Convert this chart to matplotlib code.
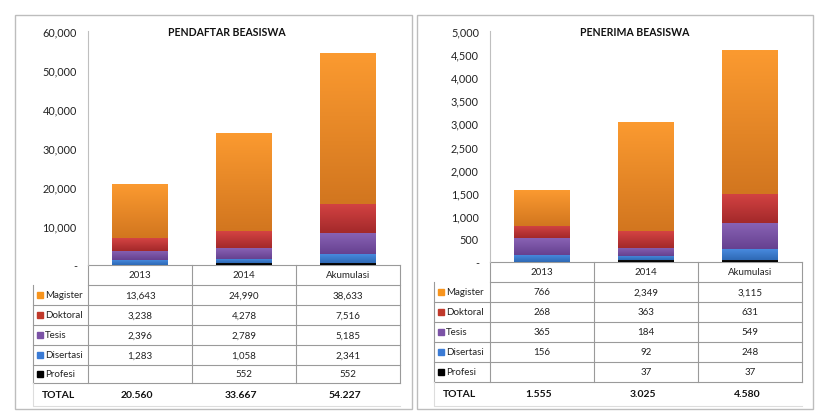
import matplotlib
matplotlib.use("Agg")
import matplotlib.pyplot as plt
import numpy as np
from matplotlib.colors import LinearSegmentedColormap
from matplotlib.patches import Rectangle

plt.rcParams['font.family'] = ['Lato', 'DejaVu Sans']

categories = ["2013", "2014", "Akumulasi"]
series_names = ["Magister", "Doktoral", "Tesis", "Disertasi", "Profesi"]

# PENDAFTAR BEASISWA
pendaftar_magister = [13643, 24990, 38633]
pendaftar_doktoral = [3238, 4278, 7516]
pendaftar_tesis = [2396, 2789, 5185]
pendaftar_disertasi = [1283, 1058, 2341]
pendaftar_profesi = [None, 552, 552]
pendaftar_ticks = [0, 10000, 20000, 30000, 40000, 50000, 60000]

# PENERIMA BEASISWA
penerima_magister = [766, 2349, 3115]
penerima_doktoral = [268, 363, 631]
penerima_tesis = [365, 184, 549]
penerima_disertasi = [156, 92, 248]
penerima_profesi = [None, 37, 37]
penerima_ticks = [0, 500, 1000, 1500, 2000, 2500, 3000, 3500, 4000, 4500, 5000]

W, H = 830, 414
fig = plt.figure(figsize=(W / 100, H / 100), dpi=100)

# gradient (top, bottom) colors per series
grad = {
    "Magister": ("#FB9A30", "#D2761F"),
    "Doktoral": ("#D44343", "#A3292A"),
    "Tesis": ("#8862B4", "#664190"),
    "Disertasi": ("#4A8DE2", "#2E69B5"),
    "Profesi": ("#111111", "#000000"),
}
legend_col = {
    "Magister": "#F7941D",
    "Doktoral": "#C0392B",
    "Tesis": "#7B52A6",
    "Disertasi": "#3A7BD5",
    "Profesi": "#000000",
}

overlay = fig.add_axes([0, 0, 1, 1], zorder=-1)
overlay.set_xlim(0, W)
overlay.set_ylim(H, 0)
overlay.axis('off')


def px_axes(x0, y0, x1, y1):
    return fig.add_axes([x0 / W, 1 - y1 / H, (x1 - x0) / W, (y1 - y0) / H])


def panel(box, ax_box, title, title_x, series, ticks, ymax, table_rows, left_col_x, total_label_x):
    bx0, by0, bx1, by1 = box
    overlay.add_patch(Rectangle((bx0, by0), bx1 - bx0, by1 - by0, fill=False,
                                edgecolor="#BDBDBD", lw=1.0))
    ax0, ay0, ax1, ay1 = ax_box
    ax = px_axes(ax0, ay0, ax1, ay1)
    x = np.arange(len(categories))
    bottoms = np.zeros(len(categories))
    order = ["Profesi", "Disertasi", "Tesis", "Doktoral", "Magister"]
    for name in order:
        vals = np.array([v if v is not None else 0 for v in series[name]], dtype=float)
        bars = ax.bar(x, vals, width=0.53, bottom=bottoms, color="none", edgecolor="none")
        cmap = LinearSegmentedColormap.from_list(name, [grad[name][1], grad[name][0]])
        for r in bars:
            if r.get_height() <= 0:
                continue
            gx, gy, gw, gh = r.get_x(), r.get_y(), r.get_width(), r.get_height()
            g = np.linspace(0, 1, 64).reshape(-1, 1)
            ax.imshow(g, extent=[gx, gx + gw, gy, gy + gh], origin='lower', cmap=cmap,
                      aspect='auto', interpolation='bilinear', zorder=2)
        bottoms += vals
    ax.set_xlim(-0.5, len(categories) - 0.5)
    ax.set_ylim(0, ymax)
    ax.set_yticks(ticks)
    ax.set_yticklabels(["-" if t == 0 else f"{t:,}" for t in ticks], fontsize=7.8, color="#222222")
    ax.tick_params(axis='y', length=0, pad=8)
    ax.set_xticks([])
    for s in ["top", "right", "bottom"]:
        ax.spines[s].set_visible(False)
    ax.spines["left"].set_color("#BFBFBF")
    ax.patch.set_alpha(0)
    fig.text(title_x / W, 1 - 33 / H, title, fontsize=7.6, fontweight='bold',
             ha='center', va='center', color="#111111")

    # table
    col_edges = [ax0 + (ax1 - ax0) * i / 3 for i in range(4)]
    row_edges = table_rows
    gc = "#9A9A9A"
    overlay.plot([col_edges[0], col_edges[-1]], [row_edges[0], row_edges[0]], color=gc, lw=0.8)
    for c in col_edges:
        overlay.plot([c, c], [row_edges[0], row_edges[6]], color=gc, lw=0.8)
    overlay.plot([left_col_x, left_col_x], [row_edges[1], row_edges[6]], color=gc, lw=0.8)
    overlay.plot([col_edges[0], col_edges[-1]], [row_edges[1], row_edges[1]], color=gc, lw=0.8)
    for ry in row_edges[2:7]:
        overlay.plot([left_col_x, col_edges[-1]], [ry, ry], color=gc, lw=0.8)
    overlay.plot([left_col_x, left_col_x, col_edges[-1]], [row_edges[6], row_edges[7], row_edges[7]],
                 color="#DDDDDD", lw=0.8)
    centers = [(col_edges[i] + col_edges[i + 1]) / 2 for i in range(3)]
    hy = (row_edges[0] + row_edges[1]) / 2
    for cx, cat in zip(centers, categories):
        overlay.text(cx, hy, cat, fontsize=7, ha='center', va='center', color="#222222")
    for i, name in enumerate(series_names):
        ry = (row_edges[i + 1] + row_edges[i + 2]) / 2
        overlay.add_patch(Rectangle((left_col_x + 4, ry - 3.2), 6, 6, color=legend_col[name]))
        overlay.text(left_col_x + 12, ry, name, fontsize=7, ha='left', va='center', color="#222222")
        for cx, v in zip(centers, series[name]):
            if v is not None:
                overlay.text(cx, ry, f"{v:,}", fontsize=7, ha='center', va='center', color="#222222")
    ty = (row_edges[6] + row_edges[7]) / 2
    overlay.text(total_label_x, ty, "TOTAL", fontsize=7.5, fontweight='bold', ha='left',
                 va='center', color="#111111")
    totals = [sum(series[n][j] or 0 for n in series_names) for j in range(3)]
    for cx, t in zip(centers, totals):
        overlay.text(cx - 3, ty, f"{t:,}".replace(",", "."), fontsize=7.5, fontweight='bold',
                     ha='center', va='center', color="#111111")


series_left = {
    "Magister": pendaftar_magister, "Doktoral": pendaftar_doktoral, "Tesis": pendaftar_tesis,
    "Disertasi": pendaftar_disertasi, "Profesi": pendaftar_profesi,
}
series_right = {
    "Magister": penerima_magister, "Doktoral": penerima_doktoral, "Tesis": penerima_tesis,
    "Disertasi": penerima_disertasi, "Profesi": penerima_profesi,
}

panel((15, 16, 412, 410), (88, 32, 400, 266), "PENDAFTAR BEASISWA", 227, series_left,
      pendaftar_ticks, 60000, [266, 286, 306, 326, 346, 366, 384, 407], 33, 42)
panel((417, 16, 813, 410), (490, 32, 802, 263), "PENERIMA BEASISWA", 635, series_right,
      penerima_ticks, 5000, [263, 283, 303, 323, 343, 363, 383, 407], 434, 443)

fig.savefig("out.png", dpi=100)
